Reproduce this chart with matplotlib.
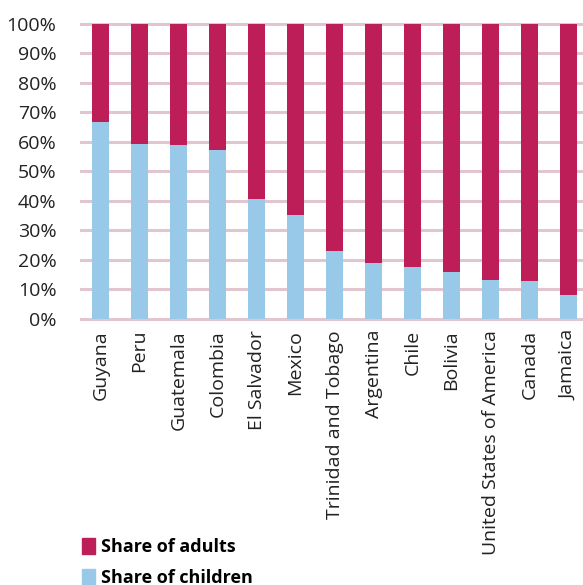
import numpy as np
import matplotlib.pyplot as plt
from matplotlib.patches import Patch

plt.rcParams['font.family'] = ['Open Sans', 'DejaVu Sans']

countries = ['Guyana', 'Peru', 'Guatemala', 'Colombia', 'El Salvador', 'Mexico',
             'Trinidad and Tobago', 'Argentina', 'Chile', 'Bolivia',
             'United States of America', 'Canada', 'Jamaica']
share_children = [66.7, 59.2, 58.9, 57.2, 40.6, 35.2, 23.0, 18.9, 17.5, 15.8, 13.1, 12.7, 8.0]
share_adults = [100 - v for v in share_children]

col_adults = '#be1e58'
col_children = '#99c9e8'
col_grid = '#e2c6cf'

fig = plt.figure(figsize=(5.83, 5.85), dpi=100)
ax = fig.add_axes([0.1372, 0.4502, 0.8628, 0.5138])

x = np.arange(len(countries))
ax.bar(x, share_children, width=0.436, color=col_children, zorder=2)
ax.bar(x, share_adults, width=0.436, bottom=share_children, color=col_adults, zorder=2)

ax.set_xlim(-0.526, 12.37)
ax.set_ylim(-1, 101)
ax.set_yticks(np.arange(0, 101, 10))
ax.set_yticklabels([f'{v}%' for v in range(0, 101, 10)], fontsize=14, color='#222222')
ax.set_xticks(x)
ax.set_xticklabels(countries, rotation=90, fontsize=14, color='#222222', va='top')
ax.tick_params(length=0, pad=6)
ax.tick_params(axis='y', pad=17)

for v in range(0, 101, 10):
    ax.axhline(v, color=col_grid, lw=2.2, zorder=1)

for s in ax.spines.values():
    s.set_visible(False)

handles = [Patch(color=col_adults, label='Share of adults'),
           Patch(color=col_children, label='Share of children')]
fig.legend(handles=handles, loc='upper left', bbox_to_anchor=(0.14, 0.08),
           frameon=False, prop={'weight': 'bold', 'size': 13},
           handlelength=0.75, handleheight=1.0, handletextpad=0.3,
           labelspacing=0.7, borderaxespad=0, borderpad=0)

fig.savefig('out.png', dpi=100)
